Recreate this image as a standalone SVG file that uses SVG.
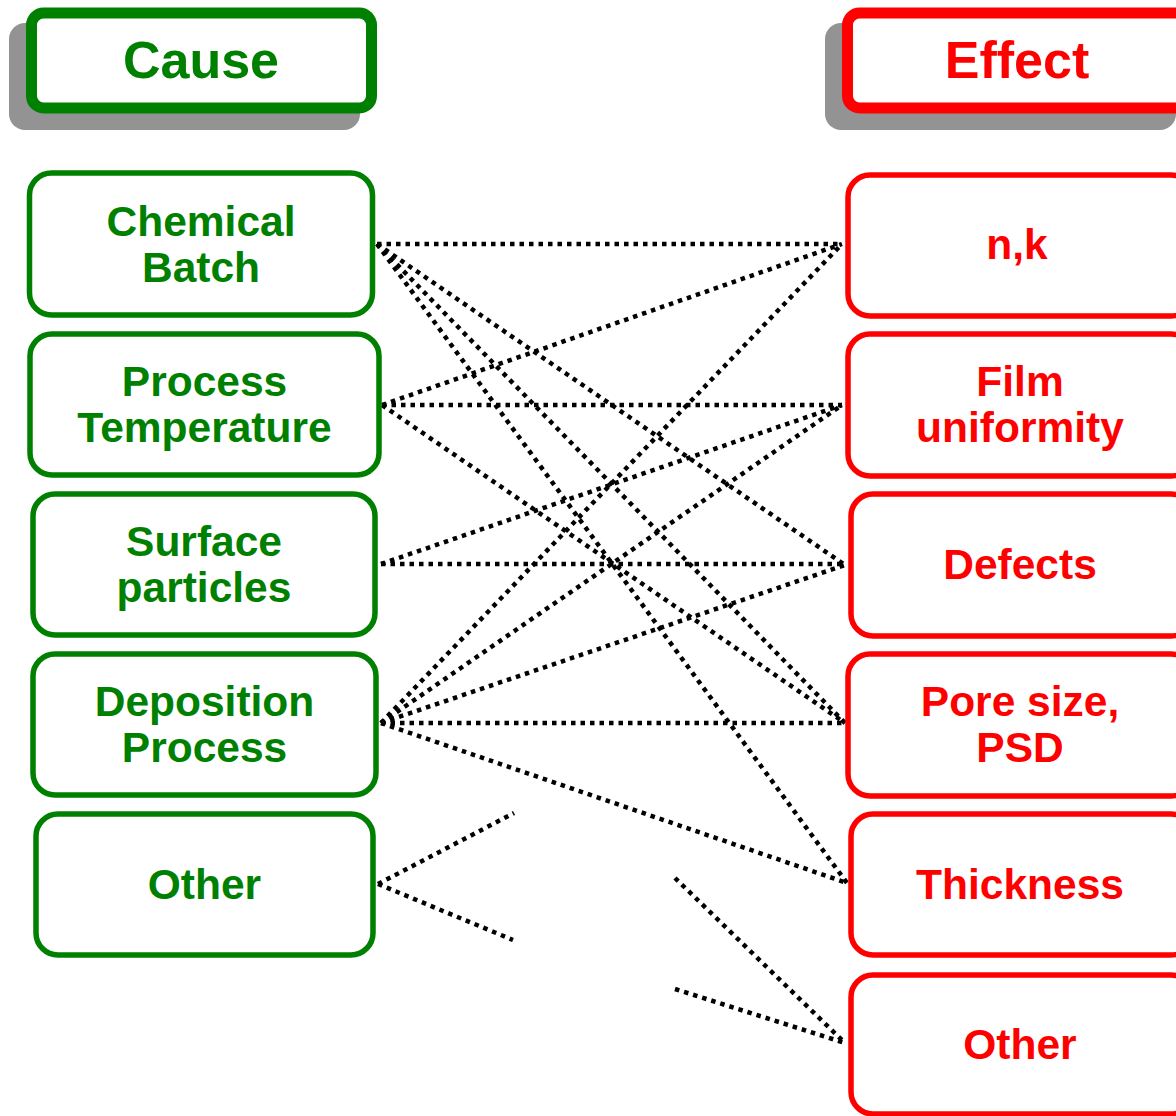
<svg xmlns="http://www.w3.org/2000/svg" width="1176" height="1116" viewBox="0 0 1176 1116">
<style>
.shadow{fill:#939393}
.hc{fill:#fff;stroke:#008000;stroke-width:11}
.he{fill:#fff;stroke:#ff0000;stroke-width:11}
.nc{fill:#fff;stroke:#008000;stroke-width:5.5}
.ne{fill:#fff;stroke:#ff0000;stroke-width:5.5}
text{font-family:"Liberation Sans",Arial,sans-serif;font-weight:bold;text-anchor:middle}
.th{font-size:52px}
.tn{font-size:42.5px}
.g{fill:#008000}
.r{fill:#ff0000}
.c{fill:none;stroke:#000;stroke-width:4.5;stroke-dasharray:4.5 5}
</style>
<rect width="1176" height="1116" fill="#fff"/>
<g id="header-cause">
<rect class="shadow" x="9" y="23" width="351" height="107" rx="16"/>
<rect class="hc" x="31.5" y="13" width="340" height="95" rx="12"/>
<text class="th g" x="201" y="78">Cause</text>
</g>
<g id="header-effect">
<rect class="shadow" x="825" y="23" width="351" height="107" rx="16"/>
<rect class="he" x="847.5" y="13" width="340" height="95" rx="12"/>
<text class="th r" x="1017" y="78">Effect</text>
</g>
<g id="connectors">
<line class="c" x1="377" y1="244" x2="842" y2="244"/>
<line class="c" x1="377" y1="244" x2="845" y2="565"/>
<line class="c" x1="377" y1="244" x2="845" y2="723"/>
<line class="c" x1="377" y1="244" x2="847" y2="883"/>
<line class="c" x1="382" y1="405" x2="842" y2="244"/>
<line class="c" x1="382" y1="405" x2="842" y2="405"/>
<line class="c" x1="382" y1="405" x2="845" y2="723"/>
<line class="c" x1="381" y1="564" x2="842" y2="405"/>
<line class="c" x1="381" y1="564" x2="845" y2="564"/>
<line class="c" x1="381" y1="723" x2="842" y2="244"/>
<line class="c" x1="381" y1="723" x2="842" y2="405"/>
<line class="c" x1="381" y1="723" x2="845" y2="565"/>
<line class="c" x1="381" y1="723" x2="845" y2="723"/>
<line class="c" x1="381" y1="723" x2="847" y2="883"/>
<line class="c" x1="378" y1="884" x2="514" y2="813"/>
<line class="c" x1="378" y1="884" x2="513" y2="940"/>
<line class="c" x1="675" y1="878" x2="845" y2="1043"/>
<line class="c" x1="675" y1="989" x2="845" y2="1043"/>
</g>
<g id="cause-chemical-batch">
<rect class="nc" x="29.5" y="173" width="343" height="142" rx="22"/>
<text class="tn g" x="201" y="236">Chemical</text>
<text class="tn g" x="201" y="282">Batch</text>
</g>
<g id="cause-process-temperature">
<rect class="nc" x="30" y="334" width="349" height="141" rx="22"/>
<text class="tn g" x="204.5" y="396">Process</text>
<text class="tn g" x="204.5" y="442">Temperature</text>
</g>
<g id="cause-surface-particles">
<rect class="nc" x="33" y="494" width="342" height="141" rx="22"/>
<text class="tn g" x="204" y="556">Surface</text>
<text class="tn g" x="204" y="602">particles</text>
</g>
<g id="cause-deposition-process">
<rect class="nc" x="33" y="654" width="343" height="141" rx="22"/>
<text class="tn g" x="204.5" y="716">Deposition</text>
<text class="tn g" x="204.5" y="762">Process</text>
</g>
<g id="cause-other">
<rect class="nc" x="36" y="814" width="337" height="141" rx="22"/>
<text class="tn g" x="204.5" y="899">Other</text>
</g>
<g id="effect-nk">
<rect class="ne" x="848" y="175" width="345" height="141" rx="22"/>
<text class="tn r" x="1017" y="259">n,k</text>
</g>
<g id="effect-film-uniformity">
<rect class="ne" x="848" y="334" width="345" height="142" rx="22"/>
<text class="tn r" x="1020" y="396">Film</text>
<text class="tn r" x="1020" y="442">uniformity</text>
</g>
<g id="effect-defects">
<rect class="ne" x="851" y="494" width="342" height="142" rx="22"/>
<text class="tn r" x="1020" y="579">Defects</text>
</g>
<g id="effect-pore-size">
<rect class="ne" x="848" y="654" width="345" height="142" rx="22"/>
<text class="tn r" x="1020" y="716">Pore size,</text>
<text class="tn r" x="1020" y="762">PSD</text>
</g>
<g id="effect-thickness">
<rect class="ne" x="851" y="814" width="342" height="141" rx="22"/>
<text class="tn r" x="1020" y="899">Thickness</text>
</g>
<g id="effect-other">
<rect class="ne" x="851" y="975" width="342" height="139" rx="22"/>
<text class="tn r" x="1020" y="1059">Other</text>
</g>
</svg>
